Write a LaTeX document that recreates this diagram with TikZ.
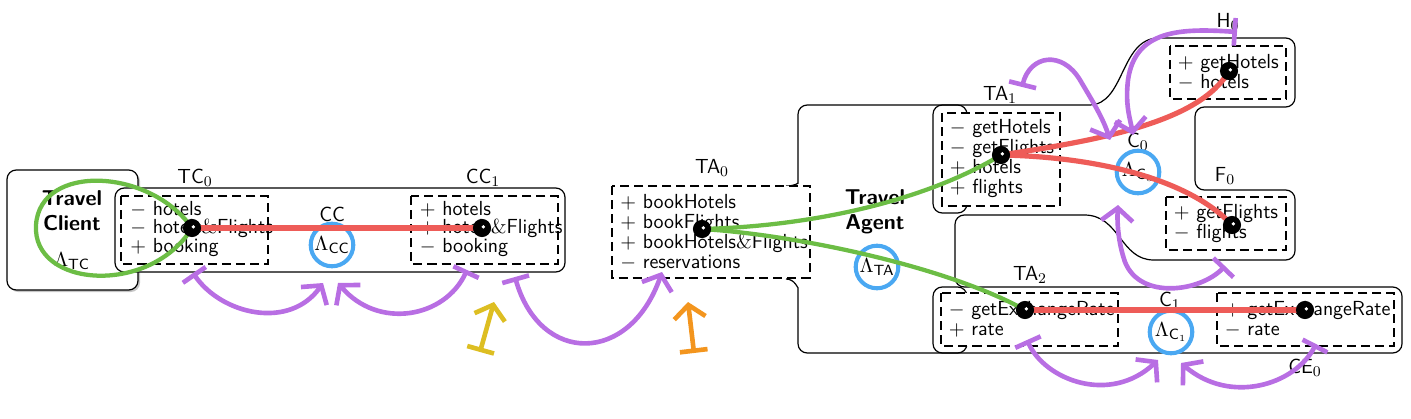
\documentclass[tikz,border=0pt]{standalone}
\usetikzlibrary{arrows.meta,shadows}
\definecolor{cpurple}{RGB}{184,110,227}
\definecolor{cred}{RGB}{238,92,88}
\definecolor{cgreen}{RGB}{108,189,69}
\definecolor{cblue}{RGB}{74,168,242}
\definecolor{cyellow}{RGB}{221,190,34}
\definecolor{corange}{RGB}{243,149,30}
\tikzset{
  outl/.style={line width=0.65pt, rounded corners=5pt},
  pbox/.style={draw, dash pattern=on 4.9pt off 2.7pt, line width=1.1pt, fill=white},
  plist/.style={anchor=west, align=left, inner sep=0pt},
  lbl/.style={inner sep=0pt},
  ttl/.style={font=\sffamily\bfseries\fontsize{11.6}{13.5}\selectfont, align=center, inner sep=0pt},
  lam/.style={circle, draw=cblue, line width=2.2pt, minimum size=23pt, inner sep=0pt},
  redl/.style={cred, line width=2.8pt, line cap=round},
  grnl/.style={cgreen, line width=2.3pt, line cap=round},
  parr/.style={line width=2.5pt, line cap=round, arrows={Bar[width=15pt]-Straight Barb[length=7pt,width=17pt]}},
}
\newcommand{\portdot}[1]{\fill (#1) circle[radius=4.9pt]; \fill[white] ([xshift=0.7pt,yshift=0.6pt]#1) circle[radius=1.0pt];}
\begin{document}
\begin{tikzpicture}[x=0.54pt,y=-0.54pt, font=\sffamily\fontsize{11}{10}\selectfont]
\useasboundingbox (0,0) rectangle (1411,419);

% ---- outlines ----
\draw[outl] (786,186) .. controls (795,186) and (798,183) .. (798,174)
  -- (798,105) -- (1080,105)
  .. controls (1125,105) and (1120,38) .. (1168,38)
  -- (1295,38) -- (1295,107) -- (1195,107) -- (1195,190) -- (1295,190) -- (1295,260) -- (1163,260)
  .. controls (1120,260) and (1120,215) .. (1075,215)
  -- (955,215) -- (955,287) -- (1402,287) -- (1402,353) -- (798,353) -- (798,297)
  .. controls (798,289) and (795,279) .. (786,279);
\draw[outl] (933,105) rectangle (967,213);
\draw[outl] (933,287) rectangle (967,353);

\draw[outl, fill=white, drop shadow={shadow xshift=1.1pt, shadow yshift=-1.1pt, opacity=0.45}] (7,170) rectangle (138,290);
\draw[outl, fill=white] (115,188) rectangle (565,272);

% ---- port boxes ----
\path[pbox] (121,196) rectangle (268,264);
\path[pbox] (411,196) rectangle (558,264);
\path[pbox] (612,186) rectangle (810,278);
\path[pbox] (942,113) rectangle (1060,206);
\path[pbox] (1170,46) rectangle (1286,99);
\path[pbox] (1166,197) rectangle (1286,250);
\path[pbox] (941,293) rectangle (1118,346);
\path[pbox] (1217,293) rectangle (1394,346);

% ---- port texts ----
\node[plist] (tc0t) at (130,229) {$-$ hotels\\$-$ hotels$\&$Flights\\$+$ booking};
\node[plist] (cc1t) at (419.5,229) {$+$ hotels\\$+$ hotels$\&$Flights\\$-$ booking};
\node[plist, font=\sffamily\fontsize{11}{10.8}\selectfont] (ta0t) at (620,232) {$+$ bookHotels\\$+$ bookFlights\\$+$ bookHotels$\&$Flights\\$-$ reservations};
\node[plist, font=\sffamily\fontsize{11}{10.8}\selectfont] (ta1t) at (949.5,158.5) {$-$ getHotels\\$-$ getFlights\\$+$ hotels\\$+$ flights};
\node[plist, font=\sffamily\fontsize{11}{10.8}\selectfont] (h0t) at (1177.5,72.5) {$+$ getHotels\\$-$ hotels};
\node[plist, font=\sffamily\fontsize{11}{10.8}\selectfont] (f0t) at (1173.5,224) {$+$ getFlights\\$-$ flights};
\node[plist, font=\sffamily\fontsize{11}{10.8}\selectfont] (ta2t) at (948.5,319.5) {$-$ getExchangeRate\\$+$ rate};
\node[plist, font=\sffamily\fontsize{11}{10.8}\selectfont] (ce0t) at (1224.5,319.5) {$+$ getExchangeRate\\$-$ rate};

% ---- labels ----
\node[ttl] (tcname) at (72,211) {Travel\\Client};
\node[lbl] (lamtc) at (72,261) {$\Lambda_{\mathsf{TC}}$};
\node[ttl] (taname) at (875,212) {Travel\\Agent};
\node[lbl] (ltc0) at (195,178) {TC$_0$};
\node[lbl] (lcc1) at (483,178) {CC$_1$};
\node[lbl] (lcc) at (332,214) {CC};
\node[lbl] (lta0) at (712,168) {TA$_0$};
\node[lbl] (lta1) at (1000,95) {TA$_1$};
\node[lbl] (lta2) at (1030,275) {TA$_2$};
\node[lbl] (lc0) at (1138,142) {C$_0$};
\node[lbl] (lc1) at (1170,301) {C$_1$};
\node[lbl] (lh0) at (1228,22) {H$_0$};
\node[lbl] (lf0) at (1225,176) {F$_0$};
\node[lbl] (lce0) at (1305,368) {CE$_0$};

% ---- lambda circles ----
\node[lam] (lamcc) at (332,245) {$\Lambda_{\mathsf{CC}}$};
\node[lam] (lamta) at (877,267) {$\Lambda_{\mathsf{TA}}$};
\node[lam] (lamc0) at (1138,172) {$\Lambda_{\mathsf{C}_0}$};
\node[lam] (lamc1) at (1171,332) {$\Lambda_{\mathsf{C}_1}$};

% ---- ports ----
\coordinate (ptc) at (192,228);
\coordinate (pcc) at (482,228);
\coordinate (pta0) at (702,229);
\coordinate (pta1) at (1001,155);
\coordinate (ph0) at (1229,71);
\coordinate (pf0) at (1232,225);
\coordinate (pta2) at (1025,310);
\coordinate (pce0) at (1305,310);

% ---- green (component bindings) ----
\draw[grnl] (ptc) .. controls (150,168) and (40,163) .. (36,225) .. controls (32,288) and (150,296) .. (ptc);
\draw[grnl] (pta0) .. controls (820,226) and (930,198) .. (pta1);
\draw[grnl] (pta0) .. controls (800,235) and (950,268) .. (pta2);

% ---- red (connector links) ----
\draw[redl] (ptc) -- (pcc);
\draw[redl] (pta1) .. controls (1100,140) and (1200,122) .. (ph0);
\draw[redl] (pta1) .. controls (1100,157) and (1190,180) .. (pf0);
\draw[redl] (pta2) -- (pce0);

% ---- port dots ----
\portdot{ptc}
\portdot{pcc}
\portdot{pta0}
\portdot{pta1}
\portdot{ph0}
\portdot{pf0}
\portdot{pta2}
\portdot{pce0}

% ---- purple arrows ----
\coordinate (a1s) at (193,273);
\coordinate (a1e) at (323,283);
\coordinate (a2s) at (467,270);
\coordinate (a2e) at (338,283);
\coordinate (a3s) at (515,277);
\coordinate (a3e) at (662,272);
\coordinate (a6s) at (1022,87);
\coordinate (a6e) at (1110,140);
\coordinate (a7s) at (1237,32);
\coordinate (a7e) at (1133,135);
\coordinate (a8s) at (1225,266);
\coordinate (a8e) at (1118,205);
\coordinate (a9s) at (1027,340);
\coordinate (a9e) at (1158,360);
\coordinate (a10s) at (1316,344);
\coordinate (a10e) at (1181,363);
\begin{scope}[cpurple]
\draw[parr] (a1s) .. controls (222,315) and (290,330) .. (a1e);
\draw[parr] (a2s) .. controls (445,318) and (378,330) .. (a2e);
\draw[parr] (a3s) .. controls (540,365) and (630,365) .. (a3e);
\draw[parr] (a6s) .. controls (1030,55) and (1062,50) .. (1080,80) .. controls (1093,102) and (1103,118) .. (a6e);
\draw[parr] (a7s) .. controls (1180,28) and (1135,30) .. (1128,80) .. controls (1125,105) and (1130,118) .. (a7e);
\draw[parr] (a8s) .. controls (1200,292) and (1140,300) .. (1125,262) .. controls (1118,242) and (1117,222) .. (a8e);
\draw[parr] (a9s) .. controls (1045,380) and (1110,405) .. (a9e);
\draw[parr] (a10s) .. controls (1295,385) and (1230,405) .. (a10e);
\end{scope}

% ---- yellow and orange ----
\coordinate (ys) at (480,352);
\coordinate (ye) at (494,302);
\coordinate (os) at (694,353);
\coordinate (oe) at (688,302);
\draw[parr, cyellow] (ys) -- (ye);
\draw[parr, corange] (os) -- (oe);
\end{tikzpicture}
\end{document}
